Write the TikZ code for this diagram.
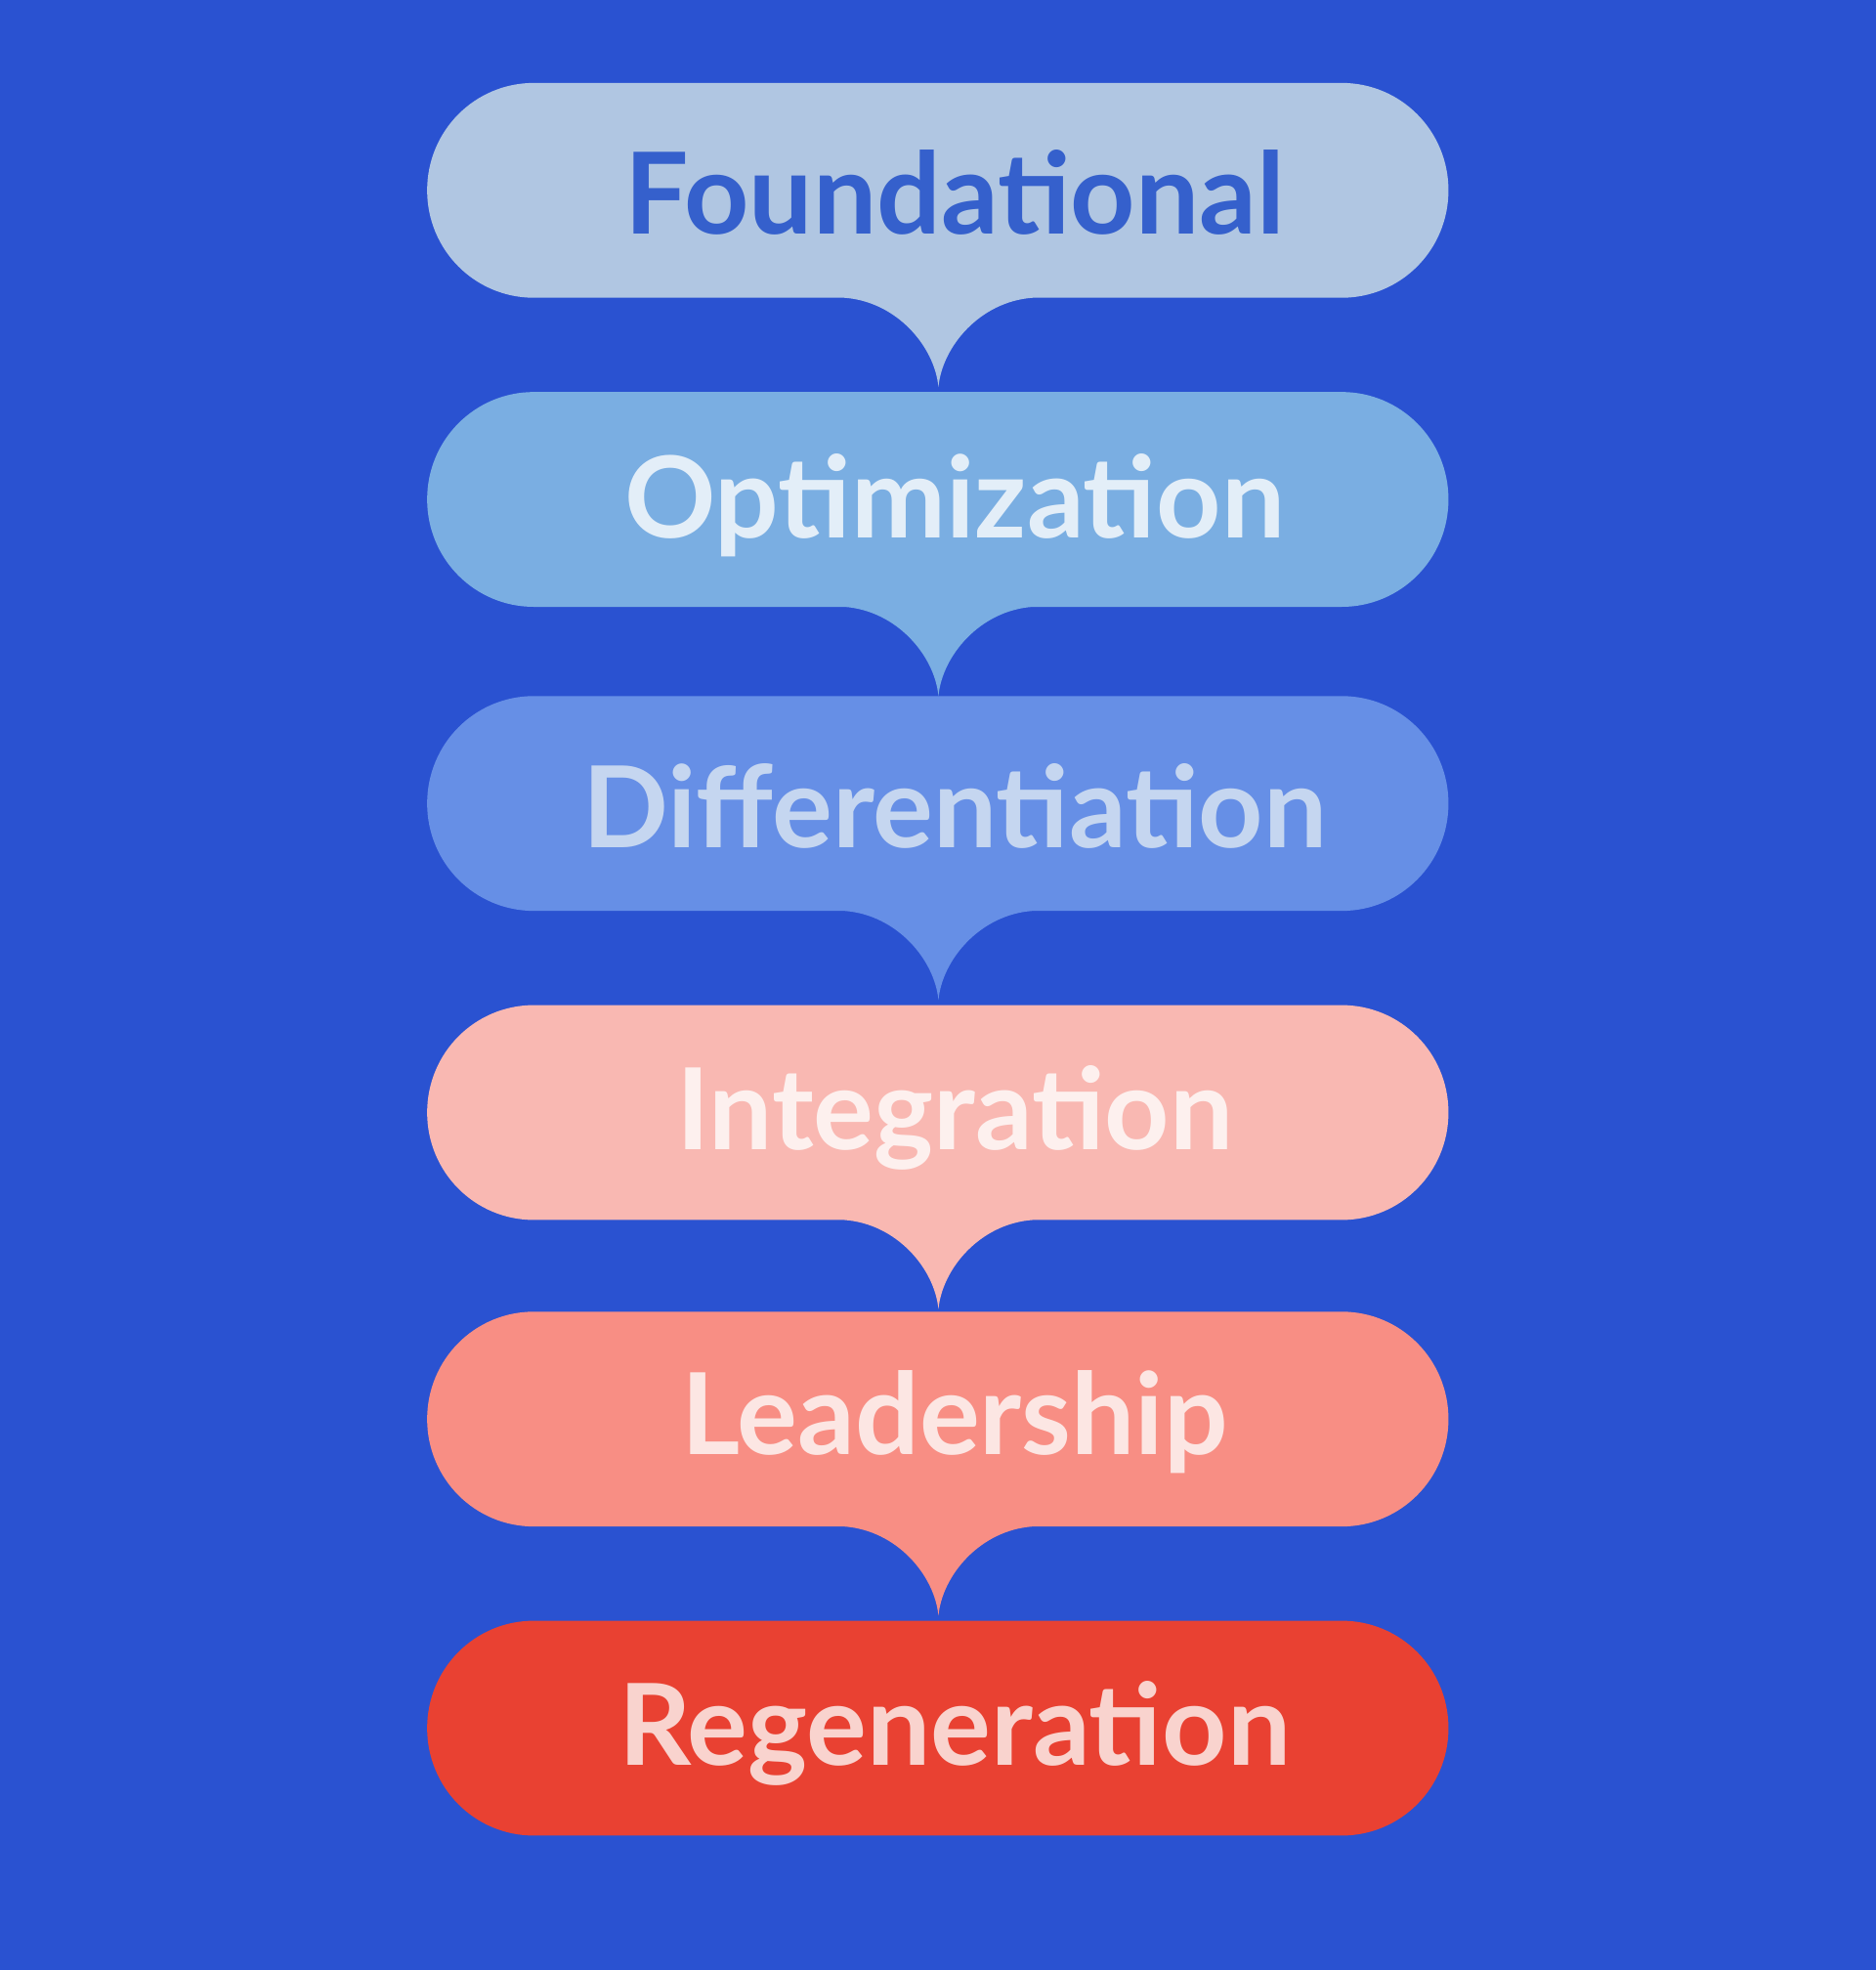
\documentclass[tikz,border=0pt]{standalone}
\usepackage{fontspec}
\setmainfont{Lato}
\definecolor{bg}{HTML}{2A52D1}
\begin{document}
\begin{tikzpicture}[x=1pt,y=-1pt,
 lbl/.style={font=\fontsize{90}{96}\selectfont\bfseries, inner sep=0pt, anchor=center}]
\fill[bg] (0,0) rectangle (1493,1568);
\useasboundingbox (0,0) rectangle (1493,1568);
\def\ends#1{%
 (1068,#1) .. controls (1115,#1) and (1153,#1+38) .. (1153,#1+85.5) .. controls (1153,#1+133) and (1115,#1+171) .. (1068,#1+171)}
\def\lend#1{%
 -- (425,#1+171) .. controls (378,#1+171) and (340,#1+133) .. (340,#1+85.5) .. controls (340,#1+38) and (378,#1) .. (425,#1) -- cycle}
\def\pill#1#2#3#4#5#6{%
 \fill[#2] \ends{#1}
  -- (822,#1+171) .. controls (780,#1+174) and (750,#1+210) .. (747,#1+242) .. controls (744,#1+210) and (714,#1+174) .. (672,#1+171)
  \lend{#1};
 \node[lbl,text=#3] (#5) at (760,#1+#6) {#4};}
\def\pilllast#1#2#3#4#5#6{%
 \fill[#2] \ends{#1} \lend{#1};
 \node[lbl,text=#3] (#5) at (760,#1+#6) {#4};}
\definecolor{c1}{HTML}{B0C6E2}\definecolor{t1}{HTML}{3560CC}
\definecolor{c2}{HTML}{7AAEE2}\definecolor{t2}{HTML}{E3EEF8}
\definecolor{c3}{HTML}{668FE6}\definecolor{t3}{HTML}{C5D6F0}
\definecolor{c4}{HTML}{F9B8B2}\definecolor{t4}{HTML}{FDF0EE}
\definecolor{c5}{HTML}{F88E84}\definecolor{t5}{HTML}{FCE6E3}
\definecolor{c6}{HTML}{E94132}\definecolor{t6}{HTML}{F9D3CE}
\pilllast{1290}{c6}{t6}{Regeneration}{n6}{90}
\pill{1044}{c5}{t5}{Leadership}{n5}{88}
\pill{800}{c4}{t4}{Integration}{n4}{90}
\pill{554}{c3}{t3}{Differentiation}{n3}{88}
\pill{312}{c2}{t2}{Optimization}{n2}{90}
\pill{66}{c1}{t1}{Foundational}{n1}{87}
\end{tikzpicture}
\end{document}
